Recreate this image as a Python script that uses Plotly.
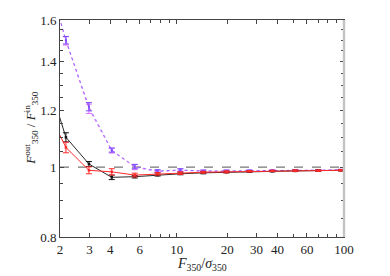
import plotly.graph_objects as go

# ---- data ----
x_vals = [1.58, 2.17, 2.98, 4.08, 5.6, 7.67, 10.5, 14.4, 19.8, 27.2, 37.3, 51.1, 70.1, 96.0]

black_y = [1.39, 1.100, 1.010, 0.968, 0.970, 0.975, 0.979, 0.982, 0.984, 0.986, 0.987, 0.988, 0.989, 0.990]
black_err = [0, 0.016, 0.008, 0.007, 0.004, 0.003, 0.003, 0.003, 0.002, 0.002, 0.002, 0.002, 0.002, 0.002]

red_y = [1.235, 1.065, 0.990, 0.985, 0.975, 0.979, 0.981, 0.984, 0.985, 0.987, 0.988, 0.989, 0.989, 0.990]
red_err = [0, 0.018, 0.011, 0.010, 0.006, 0.004, 0.004, 0.003, 0.003, 0.002, 0.002, 0.002, 0.002, 0.002]

magenta_y = [1.94, 1.497, 1.205, 1.054, 1.000, 0.986, 0.990, 0.987, 0.987, 0.988, 0.989, 0.990, 0.990, 0.991]
magenta_err = [0, 0.020, 0.018, 0.008, 0.008, 0.004, 0.004, 0.003, 0.003, 0.002, 0.002, 0.002, 0.002, 0.002]

blue_y = [1.94, 1.500, 1.213, 1.056, 1.002, 0.988, 0.991, 0.988, 0.988, 0.989, 0.989, 0.990, 0.990, 0.991]
blue_err = [0, 0.018, 0.016, 0.007, 0.007, 0.004, 0.004, 0.003, 0.003, 0.002, 0.002, 0.002, 0.002, 0.002]

ref_x = [2, 100]
ref_y = [1, 1]

x_ticks = [2, 3, 4, 6, 10, 20, 30, 40, 60, 100]
x_minor = [5, 7, 8, 9, 50, 70, 80, 90]
y_ticks = [0.8, 1, 1.2, 1.4, 1.6]
y_ticklabels = ["0.8", "1", "1.2", "1.4", "1.6"]
y_minor = [0.85, 0.9, 0.95, 1.05, 1.1, 1.15, 1.25, 1.3, 1.35, 1.45, 1.5, 1.55]

x_title = "<i>F</i><sub>350</sub>/<i>σ</i><sub>350</sub>"
y_title = "<i>F</i><sup>out</sup><sub>350</sub> / <i>F</i><sup>in</sup><sub>350</sub>"

FONT = "Liberation Serif"

fig = go.Figure()

fig.add_trace(go.Scatter(x=ref_x, y=ref_y, mode="lines",
                         line=dict(color="#777777", width=1.1, dash="dash"),
                         showlegend=False, hoverinfo="skip"))

def add_series(y, err, color, dash, lw=1.0, ms=2.5):
    fig.add_trace(go.Scatter(
        x=x_vals, y=y, mode="lines+markers",
        line=dict(color=color, width=lw, dash=dash),
        marker=dict(symbol="square", size=ms, color=color),
        error_y=dict(type="data", array=err, visible=True, color=color,
                     thickness=1.0, width=3),
        showlegend=False))

add_series(magenta_y, magenta_err, "#e070ff", "dot", 1.0, 2)
add_series(blue_y, blue_err, "#7a4dff", "dot", 0.7, 2)
add_series(black_y, black_err, "#111111", "solid", 0.9)
add_series(red_y, red_err, "#ff2a2a", "solid", 1.0)

fig.add_shape(type="line", xref="paper", yref="paper", x0=1, x1=1, y0=0, y1=1,
              line=dict(color="#c4c4c4", width=2.5))

# axis titles as annotations (precise placement)
fig.add_annotation(text=x_title, xref="paper", yref="paper", x=0.5, y=-0.125,
                   xanchor="center", yanchor="middle", showarrow=False,
                   font=dict(family=FONT, size=14, color="#222222"))
fig.add_annotation(text=y_title, xref="paper", yref="paper", x=-0.105, y=0.5,
                   xanchor="center", yanchor="middle", textangle=-90, showarrow=False,
                   font=dict(family=FONT, size=13, color="#222222"))

# the page has an 8px body margin, so the figure is sized/offset to compensate
fig.update_layout(
    width=374, height=268,
    margin=dict(l=52, r=38, t=12, b=39, autoexpand=False),
    paper_bgcolor="white", plot_bgcolor="white",
    font=dict(family=FONT, size=13, color="#222222"),
    xaxis=dict(
        type="log", range=[0.30103, 2.0], automargin=False,
        tickvals=x_ticks, ticktext=[str(v) for v in x_ticks],
        ticks="inside", ticklen=4, tickcolor="#444444",
        showline=True, linecolor="#444444", linewidth=1, mirror="allticks",
        showgrid=False, zeroline=False,
        minor=dict(tickvals=x_minor, ticks="inside", ticklen=3, tickcolor="#444444", showgrid=False),
        tickfont=dict(size=13),
    ),
    yaxis=dict(
        type="log", range=[-0.09691, 0.20412], automargin=False,
        tickvals=y_ticks, ticktext=y_ticklabels,
        ticks="inside", ticklen=4, tickcolor="#444444",
        showline=True, linecolor="#444444", linewidth=1, mirror="allticks",
        showgrid=False, zeroline=False,
        minor=dict(tickvals=y_minor, ticks="inside", ticklen=3, tickcolor="#444444", showgrid=False),
        tickfont=dict(size=13),
    ),
)

fig.write_html("out.html")
